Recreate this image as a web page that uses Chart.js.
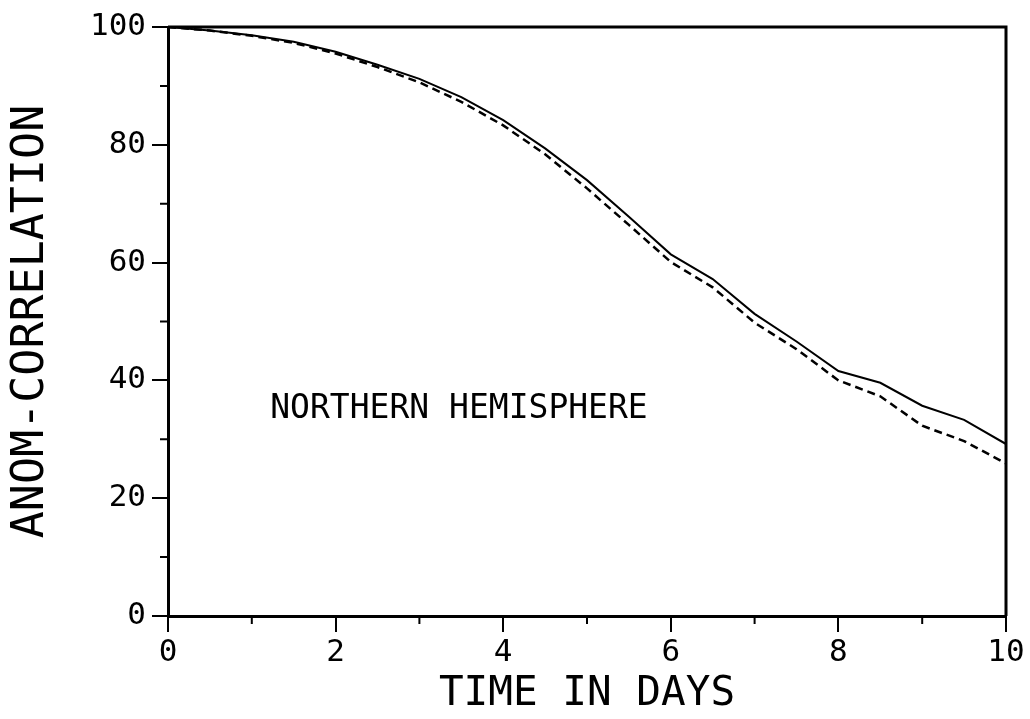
<!DOCTYPE html>
<html>
<head>
<meta charset="utf-8">
<script src="https://cdn.jsdelivr.net/npm/chart.js@4.4.0/dist/chart.umd.min.js"></script>
<style>
  html, body { margin: 0; padding: 0; background: #fff; }
  #wrap { width: 1030px; height: 719px; }
</style>
</head>
<body>
<div id="wrap"><canvas id="anomChart" width="1030" height="719"></canvas></div>
<script>
// Data (half-day steps)
const days = [0, 0.5, 1, 1.5, 2, 2.5, 3, 3.5, 4, 4.5, 5, 5.5, 6, 6.5, 7, 7.5, 8, 8.5, 9, 9.5, 10];
const solidLine  = [100, 99.4, 98.6, 97.5, 95.8, 93.6, 91.2, 88.1, 84.2, 79.4, 74.0, 67.8, 61.4, 57.2, 51.3, 46.6, 41.6, 39.6, 35.7, 33.3, 29.2];
const dashedLine = [100, 99.4, 98.5, 97.3, 95.5, 93.2, 90.6, 87.3, 83.3, 78.4, 72.6, 66.4, 60.1, 55.8, 49.8, 45.3, 40.0, 37.3, 32.3, 29.7, 25.9];

const xTicks = [0, 2, 4, 6, 8, 10];
const xMinorTicks = [1, 3, 5, 7, 9];
const yTicks = [0, 20, 40, 60, 80, 100];
const yMinorTicks = [10, 30, 50, 70, 90];

const xTitle = 'TIME IN DAYS';
const yTitle = 'ANOM-CORRELATION';
const panelLabel = 'NORTHERN HEMISPHERE';
const panelLabelAt = { x: 1.22, y: 35 };

const ink = '#000';
const fontName = "'DejaVu Sans Mono', 'Liberation Mono', monospace";

function toPoints(ys) {
    return days.map((d, i) => ({ x: d, y: ys[i] }));
}

// frame, minor ticks and the panel label
const extras = {
    id: 'extras',
    afterDraw(chart) {
        const ctx = chart.ctx;
        const area = chart.chartArea;
        const xs = chart.scales.x;
        const ys = chart.scales.y;
        ctx.save();
        ctx.strokeStyle = ink;
        ctx.lineWidth = 3;
        ctx.beginPath();
        ctx.moveTo(area.left, area.top);
        ctx.lineTo(area.right, area.top);
        ctx.lineTo(area.right, area.bottom);
        ctx.stroke();

        ctx.lineWidth = 2;
        ctx.beginPath();
        xMinorTicks.forEach(v => {
            const px = xs.getPixelForValue(v);
            ctx.moveTo(px, area.bottom);
            ctx.lineTo(px, area.bottom + 8);
        });
        yMinorTicks.forEach(v => {
            const py = ys.getPixelForValue(v);
            ctx.moveTo(area.left, py);
            ctx.lineTo(area.left - 8, py);
        });
        ctx.stroke();

        ctx.fillStyle = ink;
        ctx.font = '33px ' + fontName;
        ctx.textAlign = 'left';
        ctx.textBaseline = 'middle';
        ctx.fillText(panelLabel, xs.getPixelForValue(panelLabelAt.x), ys.getPixelForValue(panelLabelAt.y));
        ctx.restore();
    }
};

new Chart(document.getElementById('anomChart'), {
    type: 'line',
    data: {
        datasets: [{
            label: 'solid',
            data: toPoints(solidLine),
            borderColor: ink,
            borderWidth: 2,
            pointRadius: 0,
            tension: 0,
            fill: false
        }, {
            label: 'dashed',
            data: toPoints(dashedLine),
            borderColor: ink,
            borderWidth: 2.5,
            borderDash: [8, 5],
            pointRadius: 0,
            tension: 0,
            fill: false
        }]
    },
    options: {
        responsive: false,
        animation: false,
        layout: { padding: { top: 27, right: 24, left: 0, bottom: 0 } },
        plugins: {
            legend: { display: false },
            tooltip: { enabled: false }
        },
        scales: {
            x: {
                type: 'linear',
                min: 0,
                max: 10,
                afterBuildTicks: s => { s.ticks = xTicks.map(v => ({ value: v })); },
                afterFit: s => { s.height = 103; },
                border: { color: ink, width: 3 },
                grid: { drawOnChartArea: false, drawTicks: true, tickLength: 16, color: ink, lineWidth: 2 },
                ticks: { color: ink, font: { family: fontName, size: 31 }, padding: 2, maxRotation: 0 },
                title: { display: true, text: xTitle, color: ink, font: { family: fontName, size: 41 }, padding: 0 }
            },
            y: {
                min: 0,
                max: 100,
                afterBuildTicks: s => { s.ticks = yTicks.map(v => ({ value: v })); },
                afterFit: s => { s.width = 168; },
                border: { color: ink, width: 3 },
                grid: { drawOnChartArea: false, drawTicks: true, tickLength: 16, color: ink, lineWidth: 2 },
                ticks: { color: ink, font: { family: fontName, size: 31 }, padding: 6 },
                title: { display: true, text: yTitle, color: ink, font: { family: fontName, size: 45 }, padding: { top: 4, bottom: 0 } }
            }
        }
    },
    plugins: [extras]
});
</script>
</body>
</html>
